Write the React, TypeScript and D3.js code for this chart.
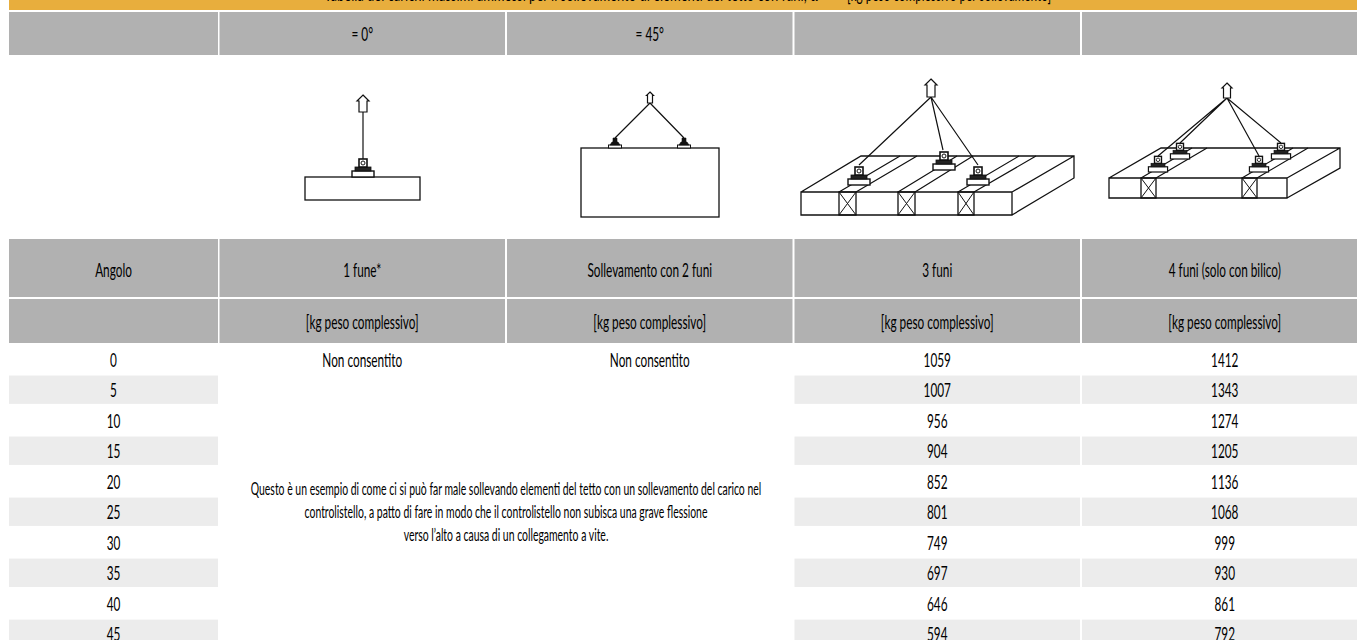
import React from "react";
import * as d3 from "d3";

const angles = [0, 5, 10, 15, 20, 25, 30, 35, 40, 45];
const funi3 = [1059, 1007, 956, 904, 852, 801, 749, 697, 646, 594];
const funi4 = [1412, 1343, 1274, 1205, 1136, 1068, 999, 930, 861, 792];
const columns = ["1 fune*", "Sollevamento con 2 funi", "3 funi", "4 funi (solo con bilico)"];
const angleRow = ["= 0°", "= 45°", "", ""];
const unitLabel = "[kg peso complessivo]";
const notAllowed = "Non consentito";
const noteLines = [
  "Questo è un esempio di come ci si può far male sollevando elementi del tetto con un sollevamento del carico nel",
  "controlistello, a patto di fare in modo che il controlistello non subisca una grave flessione",
  "verso l’alto a causa di un collegamento a vite.",
];
const titleLeft = "Tabella dei carichi massimi ammessi per il sollevamento di elementi del tetto con funi, α";
const titleRight = "[kg peso complessivo per sollevamento]";

const ORANGE = "#e8ae3d";
const GREY = "#b1b1b1";
const LIGHT = "#ececec";
const INK = "#000";
const FONT = "Lato, 'Open Sans', sans-serif";

const xCol = d3.scaleBand<string>().domain(columns).range([218.5, 1368.5]);
const yRow = d3.scaleBand<number>().domain(angles).range([345, 648]).paddingInner(0.07);
const firstColX = 9;
const firstColW = 209;
const center0 = firstColX + firstColW / 2;

const T = ({ x, y, children, size = 20, sx = 0.59 }: any) => (
  <text
    transform={`translate(${x},${y}) scale(${sx},1)`}
    textAnchor="middle"
    fontFamily={FONT}
    fontSize={size}
    fill={INK}
  >
    {children}
  </text>
);

// eye bolt clamp, drawn on top of the timber
const Clamp = ({ x, y, k = 1 }: any) => (
  <g transform={`translate(${x},${y}) scale(${k})`} stroke="#111" fill="#fff">
    <rect x={-11} y={-6} width={22} height={6} strokeWidth={1.4} />
    <rect x={-8} y={-10} width={16} height={4} fill="#222" strokeWidth={0.8} />
    <rect x={-4} y={-18} width={8} height={8} strokeWidth={1.6} />
    <circle cx={0} cy={-14} r={2} strokeWidth={1} />
  </g>
);

const SmallClamp = ({ x, y }: any) => (
  <g transform={`translate(${x},${y})`} stroke="#111">
    <rect x={-6.5} y={-3} width={13} height={3} fill="#fff" strokeWidth={1} />
    <path d="M-5,-3 L-3,-6 L-2,-6 L-2,-10 L2,-10 L2,-6 L3,-6 L5,-3 Z" fill="#111" strokeWidth={0.6} />
  </g>
);

const Arrow = ({ x, top, h = 18, w = 4, head = 6 }: any) => (
  <path
    d={`M${x},${top} L${x + head},${top + head} L${x + w},${top + head} L${x + w},${top + h} L${x - w},${top + h} L${x - w},${top + head} L${x - head},${top + head} Z`}
    fill="#fff"
    stroke="#111"
    strokeWidth={1.2}
  />
);

const Lines = ({ segs, width = 1.2 }: any) => (
  <path d={segs.map((s: number[]) => `M${s[0]},${s[1]}L${s[2]},${s[3]}`).join("")} fill="none" stroke="#111" strokeWidth={width} />
);

const Cross = ({ x0, x1, y0, y1 }: any) => (
  <g>
    <rect x={x0} y={y0} width={x1 - x0} height={y1 - y0} fill="none" stroke="#111" strokeWidth={1.3} />
    <Lines segs={[[x0, y0, x1, y1], [x0, y1, x1, y0]]} width={1} />
  </g>
);

const App = () => {
  const cols = xCol.domain();
  return (
    <svg width={1357} height={640} style={{ position: "absolute", left: 0, top: 0, display: "block" }}>
      <rect x={0} y={0} width={1357} height={640} fill="#fff" />

      {/* title band, cut by the top of the picture */}
      <rect x={firstColX} y={0} width={1357} height={10} fill={ORANGE} />
      <T x={571} y={1} sx={0.65}>{titleLeft}</T>
      <T x={949} y={1}>{titleRight}</T>

      {/* header rows */}
      {[
        [12, 43],
        [239, 58],
        [299, 44],
      ].map(([y, h]) => (
        <g key={y}>
          <rect x={firstColX} y={y} width={firstColW} height={h} fill={GREY} />
          {cols.map((c) => (
            <rect key={c} x={xCol(c)! + 1} y={y} width={xCol.bandwidth() - 2} height={h} fill={GREY} />
          ))}
        </g>
      ))}
      {cols.map((c, i) => (
        <g key={c}>
          <T x={xCol(c)! + xCol.bandwidth() / 2} y={41}>{angleRow[i]}</T>
          <T x={xCol(c)! + xCol.bandwidth() / 2} y={277}>{c}</T>
          <T x={xCol(c)! + xCol.bandwidth() / 2} y={329}>{unitLabel}</T>
        </g>
      ))}
      <T x={center0} y={277}>Angolo</T>

      {/* striped rows */}
      {angles.map((a, i) =>
        i % 2 === 1 ? (
          <g key={a}>
            <rect x={firstColX} y={yRow(a)} width={firstColW} height={yRow.bandwidth()} fill={LIGHT} />
            {cols.slice(2).map((c) => (
              <rect key={c} x={xCol(c)! + 1} y={yRow(a)} width={xCol.bandwidth() - 2} height={yRow.bandwidth()} fill={LIGHT} />
            ))}
          </g>
        ) : null
      )}
      {angles.map((a, i) => {
        const y = yRow(a)! + yRow.bandwidth() / 2 + 7.5;
        return (
          <g key={a}>
            <T x={center0} y={y}>{a}</T>
            <T x={xCol(cols[2])! + xCol.bandwidth() / 2} y={y}>{funi3[i]}</T>
            <T x={xCol(cols[3])! + xCol.bandwidth() / 2} y={y}>{funi4[i]}</T>
          </g>
        );
      })}
      {cols.slice(0, 2).map((c) => (
        <T key={c} x={xCol(c)! + xCol.bandwidth() / 2} y={yRow(0)! + yRow.bandwidth() / 2 + 7.5}>
          {notAllowed}
        </T>
      ))}
      {noteLines.map((l, i) => (
        <T key={l} x={506} y={495 + i * 23} size={18} sx={0.58}>
          {l}
        </T>
      ))}

      {/* 1 rope */}
      <rect x={305} y={177} width={115} height={23} fill="#fff" stroke="#111" strokeWidth={1.3} />
      <Lines segs={[[363, 112, 363, 160]]} />
      <Arrow x={363} top={95} h={17} />
      <Clamp x={363} y={177} />

      {/* 2 ropes */}
      <rect x={581} y={148} width={138} height={69} fill="#fff" stroke="#111" strokeWidth={1.3} />
      <Lines segs={[[650, 103, 615, 138], [650, 103, 684, 138]]} />
      <Arrow x={650} top={92} h={11} w={2.5} head={3.5} />
      <SmallClamp x={615} y={148} />
      <SmallClamp x={684} y={148} />

      {/* 3 ropes */}
      <path d="M801,192H1012V215H801Z M801,192L861,156H1074V178L1012,215 M1012,192L1074,156" fill="none" stroke="#111" strokeWidth={1.3} />
      <Lines
        segs={[
          [839, 192, 900, 156], [856, 192, 917, 156],
          [898, 192, 957, 156], [915, 192, 973, 156],
          [958, 192, 1019, 156], [974, 192, 1036, 156],
        ]}
      />
      <Cross x0={839} x1={856} y0={192} y1={215} />
      <Cross x0={898} x1={915} y0={192} y1={215} />
      <Cross x0={958} x1={974} y0={192} y1={215} />
      <Lines segs={[[931, 97, 859, 165], [931, 97, 943, 150], [931, 97, 978, 165]]} />
      <Arrow x={931} top={79} h={18} />
      <Clamp x={859} y={185} />
      <Clamp x={944} y={170} />
      <Clamp x={978} y={185} />

      {/* 4 ropes */}
      <path d="M1109,178H1287V198H1109Z M1109,178L1161,148H1340V168L1287,198 M1287,178L1340,148" fill="none" stroke="#111" strokeWidth={1.3} />
      <Lines
        segs={[
          [1141, 178, 1192, 148], [1156, 178, 1207, 148],
          [1242, 178, 1293, 148], [1257, 178, 1308, 148],
        ]}
      />
      <Cross x0={1141} x1={1156} y0={178} y1={198} />
      <Cross x0={1242} x1={1257} y0={178} y1={198} />
      <Lines segs={[[1227, 98, 1158, 156], [1227, 98, 1180, 143], [1227, 98, 1259, 156], [1227, 98, 1281, 143]]} />
      <Arrow x={1227} top={83} h={15} w={3.5} head={5} />
      <Clamp x={1158} y={172} k={0.87} />
      <Clamp x={1180} y={159} k={0.87} />
      <Clamp x={1259} y={172} k={0.87} />
      <Clamp x={1281} y={159} k={0.87} />
    </svg>
  );
};

export default App;
